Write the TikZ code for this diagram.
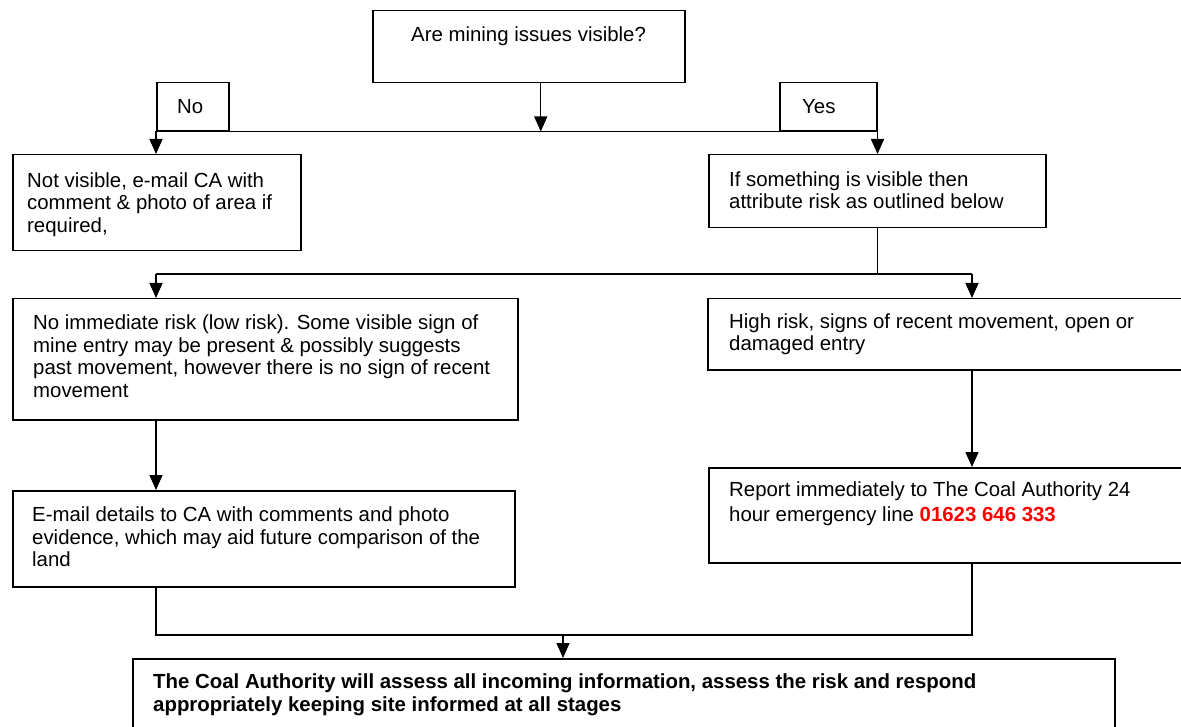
\documentclass[tikz,border=0pt]{standalone}
\usepackage{fontspec}
\setmainfont{Liberation Sans}
\usetikzlibrary{arrows.meta}
\newcommand\fs{\rule{0pt}{16pt}}
\begin{document}
\begin{tikzpicture}[x=1pt,y=-1pt,
  box/.style={draw,line width=1.5pt,anchor=north west,inner sep=0pt},
  txt/.style={anchor=north west,inner sep=0pt,align=left,font=\fontsize{20.4pt}{22.5pt}\selectfont},
  arr/.style={line width=1.4pt,-{Triangle[length=15pt,width=13pt]}},
  ln/.style={line width=1.4pt}]
\useasboundingbox (0,0) rectangle (1181,727);
\clip (0,0) rectangle (1181,727);
\fill[white] (0,0) rectangle (1181,727);
% boxes
\node[box,minimum width=312pt,minimum height=72pt] (q) at (372,10) {};
\node[box,minimum width=72pt,minimum height=48pt] (no) at (156,82) {};
\node[box,minimum width=97pt,minimum height=48pt] (yes) at (779,82) {};
\node[box,minimum width=288pt,minimum height=96pt] (nv) at (12,154) {};
\node[box,minimum width=337pt,minimum height=73pt] (sv) at (708,154) {};
\node[box,minimum width=505pt,minimum height=121pt] (low) at (12,298) {};
\node[box,minimum width=500pt,minimum height=71pt] (high) at (707,298) {};
\node[box,minimum width=502pt,minimum height=96pt] (em) at (12,490) {};
\node[box,minimum width=500pt,minimum height=95pt] (rep) at (708,467) {};
\node[box,minimum width=982pt,minimum height=100pt] (ca) at (132,658) {};
% texts
\node[txt] (qt) at (411,25) {\fs Are mining issues visible?};
\node[txt] (not) at (177,97) {\fs No};
\node[txt] (yest) at (802,97) {\fs Yes};
\node[txt] (nvt) at (27,171) {\fs Not visible, e-mail CA with\\comment \& photo of area if\\required,};
\node[txt] (svt) at (729,170) {\fs If something is visible then\\attribute risk as outlined below};
\node[txt] (lowt) at (33,313.5) {\fs No immediate risk (low risk). Some visible sign of\\mine entry may be present \& possibly suggests\\past movement, however there is no sign of recent\\movement};
\node[txt] (hight) at (729,312) {\fs High risk, signs of recent movement, open or\\damaged entry};
\node[txt] (emt) at (32,505.7) {\fs E-mail details to CA with comments and photo\\evidence, which may aid future comparison of the\\land};
\node[txt,font=\fontsize{20.4pt}{25pt}\selectfont] (rept) at (729,480.7) {\fs Report immediately to The Coal Authority 24\\hour emergency line \textcolor{red}{\bfseries 01623 646 333}};
\node[txt,font=\fontsize{20.4pt}{23.7pt}\selectfont\bfseries] (cat) at (153,672) {\fs The Coal Authority will assess all incoming information, assess the risk and respond\\appropriately keeping site informed at all stages};
% connectors
\draw[arr] ([xshift=12pt]q.south) -- ([xshift=12pt]q.south |- no.south);
\draw[ln] (no.south west) -- (yes.south east);
\draw[arr] (no.south west) -- (no.south west |- nv.north);
\draw[arr] (yes.south east) -- (yes.south east |- sv.north);
\coordinate (L) at (156,274);
\coordinate (R) at (972,274);
\coordinate (B) at (563,635);
\draw[ln] (sv.south) -- (sv.south |- L);
\draw[ln] (L) -- (R);
\draw[arr] (L) -- (L |- low.north);
\draw[arr] (R) -- (R |- high.north);
\draw[arr] (L |- low.south) -- (L |- em.north);
\draw[arr] (R |- high.south) -- (R |- rep.north);
\draw[ln] (L |- em.south) -- (L |- B) -- (R |- B) -- (R |- rep.south);
\draw[arr] (B) -- (B |- ca.north);
\end{tikzpicture}
\end{document}
